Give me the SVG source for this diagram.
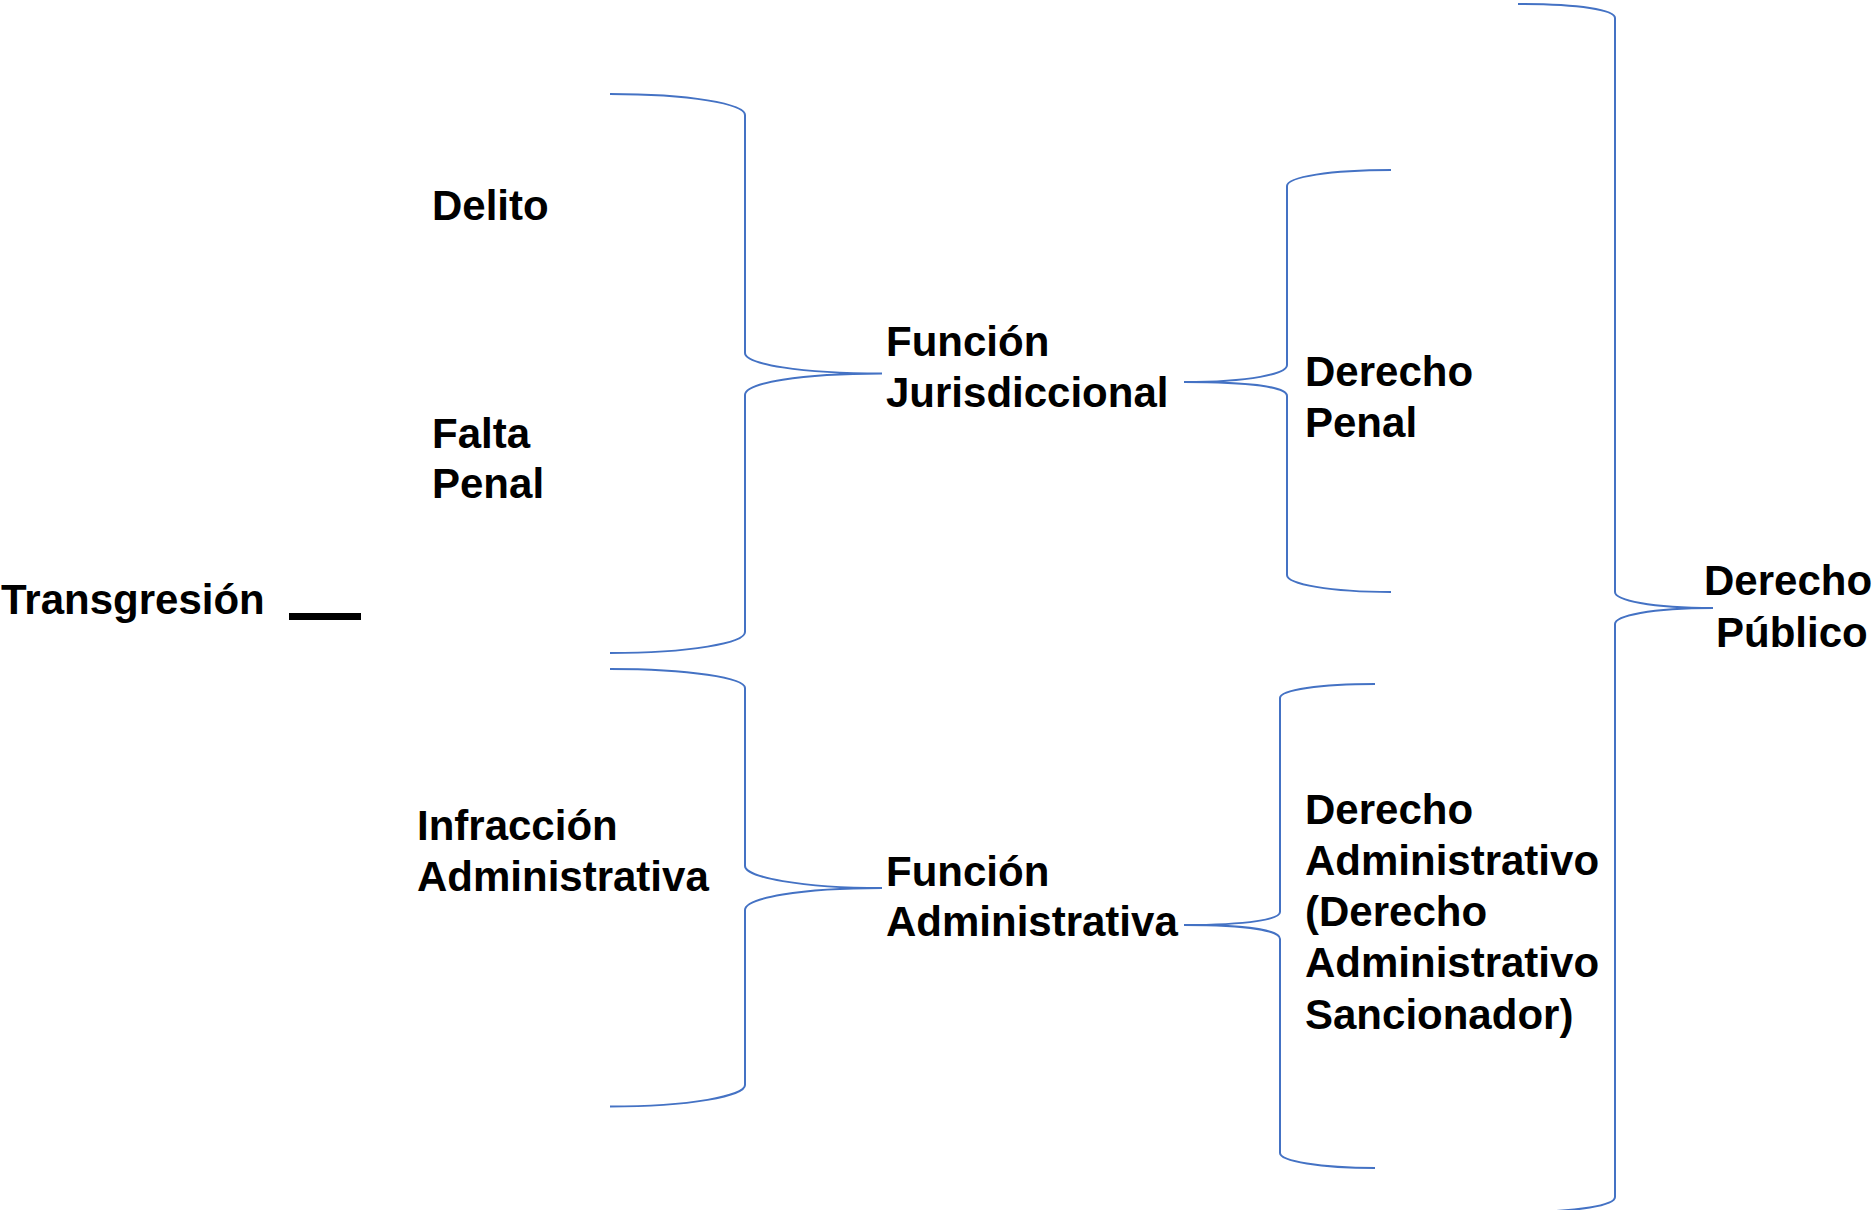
<svg xmlns="http://www.w3.org/2000/svg" width="1874" height="1210" viewBox="0 0 1874 1210">
<style>
.t{font-family:"Liberation Sans",Arial,sans-serif;font-weight:bold;font-size:42px;fill:#000}
.b{fill:none;stroke:#4472C4;stroke-width:2}
</style>
<rect width="1874" height="1210" fill="#fff"/>
<g id="connectors">
<path id="braceA" class="b" d="M610,94 C690,94 745,104 745,115 L745,353 C745,364 800,373.5 882,373.5 C800,373.5 745,383 745,395 L745,632 C745,643 690,653 610,653"/>
<path id="braceB" class="b" d="M610,669 C690,669 745,678 745,688 L745,866 C745,877 800,888 882,888 C800,888 745,898 745,910 L745,1085 C745,1096 690,1106.5 610,1106.5"/>
<path id="braceC" class="b" d="M1391,170 C1330,170 1287,177 1287,186 L1287,365 C1287,374 1250,382 1184,382 C1250,382 1287,387 1287,396 L1287,575 C1287,584 1330,592 1391,592"/>
<path id="braceE" class="b" d="M1375,684 C1320,684 1280,690 1280,698 L1280,912 C1280,919 1250,925 1184,925 C1250,925 1280,931 1280,939 L1280,1153 C1280,1161 1320,1168 1375,1168"/>
<path id="braceD" class="b" d="M1518,4 C1580,4 1615,10 1615,18 L1615,592 C1615,600 1650,608 1713,608 C1650,608 1615,616 1615,624 L1615,1197 C1615,1205 1580,1212 1518,1212"/>
<rect id="dash" x="289" y="613" width="72" height="7" fill="#000"/>
</g>
<g id="n-transgresion"><text class="t" x="1" y="613.5">Transgresión</text></g>
<g id="n-delito"><text class="t" x="432" y="220">Delito</text></g>
<g id="n-falta"><text class="t" x="432" y="447.5">Falta</text><text class="t" x="432" y="498">Penal</text></g>
<g id="n-infraccion"><text class="t" x="417" y="840">Infracción</text><text class="t" x="417" y="891">Administrativa</text></g>
<g id="n-funcjur"><text class="t" x="886" y="356">Función</text><text class="t" x="886" y="407">Jurisdiccional</text></g>
<g id="n-funcadm"><text class="t" x="886" y="885.5">Función</text><text class="t" x="886" y="936">Administrativa</text></g>
<g id="n-dpenal"><text class="t" x="1305" y="386">Derecho</text><text class="t" x="1305" y="437">Penal</text></g>
<g id="n-dadm"><text class="t" x="1305" y="824">Derecho</text><text class="t" x="1305" y="875">Administrativo</text><text class="t" x="1305" y="925.5">(Derecho</text><text class="t" x="1305" y="977">Administrativo</text><text class="t" x="1305" y="1028.5">Sancionador)</text></g>
<g id="n-dpublico"><text class="t" x="1704" y="595">Derecho</text><text class="t" x="1716" y="646.7">Público</text></g>
</svg>
